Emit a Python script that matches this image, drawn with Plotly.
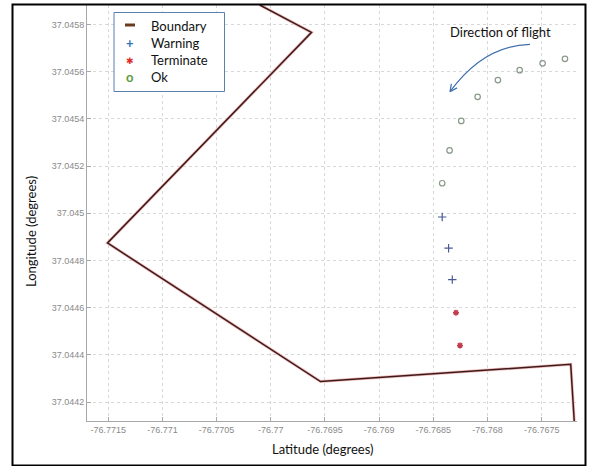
import math
import plotly.graph_objects as go

# ---- data ----
boundary_lon = [-76.770101, -76.769624, -76.771507, -76.769541, -76.767232, -76.767195]
boundary_lat = [37.045882, 37.045766, 37.044874, 37.044287, 37.044360, 37.044087]

ok_lon = [-76.767285, -76.767491, -76.767703, -76.767904, -76.768091, -76.768242, -76.768350, -76.768418]
ok_lat = [37.045654, 37.045635, 37.045606, 37.045564, 37.045493, 37.045391, 37.045266, 37.045127]

warn_lon = [-76.768418, -76.768359, -76.768325]
warn_lat = [37.044984, 37.044852, 37.044719]

term_lon = [-76.768291, -76.768254]
term_lat = [37.044579, 37.044440]

x_tickvals = [-76.7715, -76.771, -76.7705, -76.77, -76.7695, -76.769, -76.7685, -76.768, -76.7675]
x_ticktext = ["-76.7715", "-76.771", "-76.7705", "-76.77", "-76.7695", "-76.769", "-76.7685", "-76.768", "-76.7675"]
y_tickvals = [37.0442, 37.0444, 37.0446, 37.0448, 37.045, 37.0452, 37.0454, 37.0456, 37.0458]
y_ticktext = ["37.0442", "37.0444", "37.0446", "37.0448", "37.045", "37.0452", "37.0454", "37.0456", "37.0458"]

legend_labels = ["Boundary", "Warning", "Terminate", "Ok"]
legend_symbols = ["", "+", "\u2731", "o"]
legend_colors = ["#6b3a1e", "#2e75b6", "#e02a2a", "#5b9a3c"]

# ---- layout geometry (pixels) ----
W, H = 591, 466
L, R, T, B = 87, 14, 5, 45
PW, PH = W - L - R, H - T - B


def px(x):
    return (x - L) / PW


def py(y):
    return (H - B - y) / PH


fig = go.Figure()
fig.add_trace(go.Scatter(x=boundary_lon, y=boundary_lat, mode="lines",
                         line=dict(color="#f0bcbc", width=3), hoverinfo="skip",
                         showlegend=False))
fig.add_trace(go.Scatter(x=boundary_lon, y=boundary_lat, mode="lines", name="Boundary",
                         line=dict(color="#3f1a1a", width=1.5), showlegend=False))
fig.add_trace(go.Scatter(x=ok_lon, y=ok_lat, mode="markers", name="Ok",
                         marker=dict(symbol="circle-open", size=5.5, color="#8a998a",
                                     line=dict(width=1.2)), showlegend=False))
fig.add_trace(go.Scatter(x=warn_lon, y=warn_lat, mode="markers", name="Warning",
                         marker=dict(symbol="cross-thin-open", size=6, color="#4b5a94",
                                     line=dict(width=1.2)), showlegend=False))
fig.add_trace(go.Scatter(x=term_lon, y=term_lat, mode="markers", name="Terminate",
                         marker=dict(symbol="asterisk-open", size=5, color="#c23a4c",
                                     line=dict(width=1.5)), showlegend=False))

axis_common = dict(showgrid=True, gridcolor="#d8d8d8", griddash="dot", gridwidth=1,
                   showline=True, linecolor="#a8a8a8", linewidth=1, ticks="inside",
                   ticklen=4, tickcolor="#a8a8a8", zeroline=False, mirror=False,
                   tickfont=dict(family="Liberation Sans", size=9, color="#8a8a8a"))

fig.update_layout(
    width=W, height=H, autosize=False,
    margin=dict(l=L, r=R, t=T, b=B, pad=0),
    paper_bgcolor="white", plot_bgcolor="white",
    xaxis=dict(range=[-76.771696, -76.767174], tickvals=x_tickvals, ticktext=x_ticktext,
               **axis_common),
    yaxis=dict(range=[37.04412, 37.045882], tickvals=y_tickvals, ticktext=y_ticktext,
               **axis_common),
    font=dict(family="Lato", size=13, color="#111111"),
)

annotations = []
# axis titles
annotations.append(dict(text="Latitude (degrees)", x=px(322), y=py(449), xref="paper", yref="paper",
                        showarrow=False, xanchor="center", yanchor="middle",
                        font=dict(family="Lato", size=13, color="#111111")))
annotations.append(dict(text="Longitude (degrees)", x=px(31), y=py(232), xref="paper", yref="paper",
                        showarrow=False, xanchor="center", yanchor="middle", textangle=-90,
                        font=dict(family="Lato", size=13, color="#111111")))
annotations.append(dict(text="Direction of flight", x=px(500), y=py(32), xref="paper", yref="paper",
                        showarrow=False, xanchor="center", yanchor="middle",
                        font=dict(family="Lato", size=13, color="#111111")))

shapes = []
# outer frame
shapes.append(dict(type="rect", xref="paper", yref="paper", x0=px(12.5), x1=px(585.5),
                   y0=py(465.5), y1=py(4.5), line=dict(color="black", width=2)))
# legend box
shapes.append(dict(type="rect", xref="paper", yref="paper", x0=px(114), x1=px(224.5),
                   y0=py(91.5), y1=py(12.5), line=dict(color="#5b7fb0", width=1),
                   fillcolor="white", layer="above"))

# legend (text box)
row_y = [26, 43, 60, 77]
for lab, sym, col, ry in zip(legend_labels, legend_symbols, legend_colors, row_y):
    annotations.append(dict(text=lab, x=px(149), y=py(ry), xref="paper", yref="paper",
                            showarrow=False, xanchor="left", yanchor="middle",
                            font=dict(family="Lato", size=13, color="#111111")))
    if sym:
        fam = "DejaVu Sans" if sym == "\u2731" else "Lato"
        size = 9 if sym == "\u2731" else 13
        annotations.append(dict(text="<b>%s</b>" % sym, x=px(130), y=py(ry + (1 if sym == "\u2731" else 0)),
                                xref="paper", yref="paper", borderpad=0,
                                showarrow=False, xanchor="center", yanchor="middle",
                                font=dict(family=fam, size=size, color=col)))
    else:
        shapes.append(dict(type="line", xref="paper", yref="paper", layer="above",
                           x0=px(125), x1=px(135), y0=py(ry - 1), y1=py(ry - 1),
                           line=dict(color=col, width=3)))
fig.update_layout(annotations=annotations)

# curved arrow (quadratic bezier in pixel space)
p0 = (530, 44.3)
c = (483.4, 45.4)
p2 = (450, 91.7)
path = "M %f,%f Q %f,%f %f,%f" % (px(p0[0]), py(p0[1]), px(c[0]), py(c[1]), px(p2[0]), py(p2[1]))
shapes.append(dict(type="path", xref="paper", yref="paper", path=path,
                   line=dict(color="#3f6fae", width=1.2)))
dx, dy = p2[0] - c[0], p2[1] - c[1]
n = math.hypot(dx, dy)
ux, uy = dx / n, dy / n
head = 8
for ang in (0.45, -0.45):
    ca, sa = math.cos(ang), math.sin(ang)
    bx = -(ux * ca - uy * sa) * head
    by = -(ux * sa + uy * ca) * head
    shapes.append(dict(type="line", xref="paper", yref="paper",
                       x0=px(p2[0]), y0=py(p2[1]), x1=px(p2[0] + bx), y1=py(p2[1] + by),
                       line=dict(color="#3f6fae", width=1.2)))
fig.update_layout(shapes=shapes)

fig.write_html("out.html")
